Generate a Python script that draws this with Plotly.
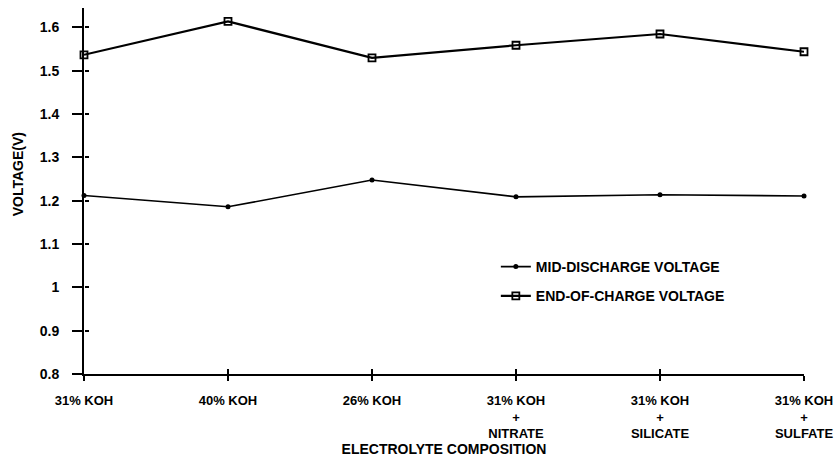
import plotly.graph_objects as go

categories = ["31% KOH", "40% KOH", "26% KOH",
              "31% KOH<br>+<br>NITRATE", "31% KOH<br>+<br>SILICATE", "31% KOH<br>+<br>SULFATE"]
mid_discharge = [1.212, 1.186, 1.248, 1.209, 1.214, 1.211]
end_of_charge = [1.537, 1.614, 1.530, 1.559, 1.585, 1.544]
y_ticks = [0.8, 0.9, 1.0, 1.1, 1.2, 1.3, 1.4, 1.5, 1.6]
y_tick_text = ["0.8", "0.9", "1", "1.1", "1.2", "1.3", "1.4", "1.5", "1.6"]

FONT = "Liberation Sans, Arial, sans-serif"
FS = 14
fig = go.Figure()
fig.add_trace(go.Scatter(
    x=categories, y=mid_discharge, mode="lines+markers", name="<b>MID-DISCHARGE VOLTAGE</b>",
    line=dict(color="black", width=1.6), marker=dict(symbol="circle", size=5, color="black"),
    cliponaxis=False, legendgroup="a"))
fig.add_trace(go.Scatter(
    x=categories, y=end_of_charge, mode="lines+markers", name="<b>END-OF-CHARGE VOLTAGE</b>",
    line=dict(color="black", width=2.2), marker=dict(symbol="square-open", size=7, color="black",
                                                     line=dict(width=1.8, color="black")),
    cliponaxis=False, legendgroup="b"))
# invisible copy on the overlay axes, so the inner half of the crossing ticks is drawn
fig.add_trace(go.Scatter(x=categories, y=mid_discharge, xaxis="x2", yaxis="y2", mode="markers",
                         marker=dict(opacity=0), showlegend=False, hoverinfo="skip"))

yrange = [0.8, 1.645]
xticktext = ["<b>%s</b>" % c for c in categories]
fig.update_layout(
    width=838, height=463,
    margin=dict(l=84, r=34, t=8, b=89),
    paper_bgcolor="white", plot_bgcolor="white",
    font=dict(family=FONT, size=FS, color="black"),
    showlegend=True,
    legend=dict(x=0.572, y=0.336, xanchor="left", yanchor="top", bgcolor="rgba(0,0,0,0)",
                font=dict(size=FS, family=FONT, color="black"), tracegroupgap=8,
                traceorder="grouped"),
    xaxis=dict(type="category", range=[0, 5], showline=True, linecolor="black", linewidth=2,
               categoryarray=categories, categoryorder="array",
               tickvals=categories, ticktext=xticktext, automargin=False,
               ticks="outside", ticklen=5, tickwidth=1.5, tickcolor="black",
               showgrid=False, zeroline=False, ticklabelstandoff=8,
               tickfont=dict(size=13, family=FONT, color="black"),
               title=dict(text="<b>ELECTROLYTE COMPOSITION</b>", font=dict(size=FS), standoff=0)),
    yaxis=dict(range=yrange, showline=True, linecolor="black", linewidth=2,
               ticks="outside", ticklen=10, tickwidth=2, tickcolor="black",
               tickvals=y_ticks, ticktext=["<b>%s</b>" % t for t in y_tick_text],
               showgrid=False, zeroline=False, ticklabelstandoff=10, automargin=False,
               tickfont=dict(size=FS, family=FONT, color="black")),
    xaxis2=dict(type="category", range=[0, 5], overlaying="x", anchor="free", position=0,
                side="bottom", categoryarray=categories, categoryorder="array",
                ticks="inside", ticklen=5, tickwidth=1.5, tickcolor="black",
                showticklabels=False, showgrid=False, zeroline=False, showline=False,
                tickvals=categories),
    yaxis2=dict(range=yrange, overlaying="y", anchor="free", position=0, side="left",
                ticks="inside", ticklen=4, tickwidth=2, tickcolor="black",
                tickvals=y_ticks, showticklabels=False, showgrid=False, zeroline=False,
                showline=False),
    annotations=[dict(text="<b>VOLTAGE(V)</b>", textangle=-90, xref="paper", yref="paper",
                      x=-0.092, y=0.545, xanchor="center", yanchor="middle", showarrow=False,
                      font=dict(size=FS, family=FONT, color="black"))],
)
fig.write_html("out.html")
